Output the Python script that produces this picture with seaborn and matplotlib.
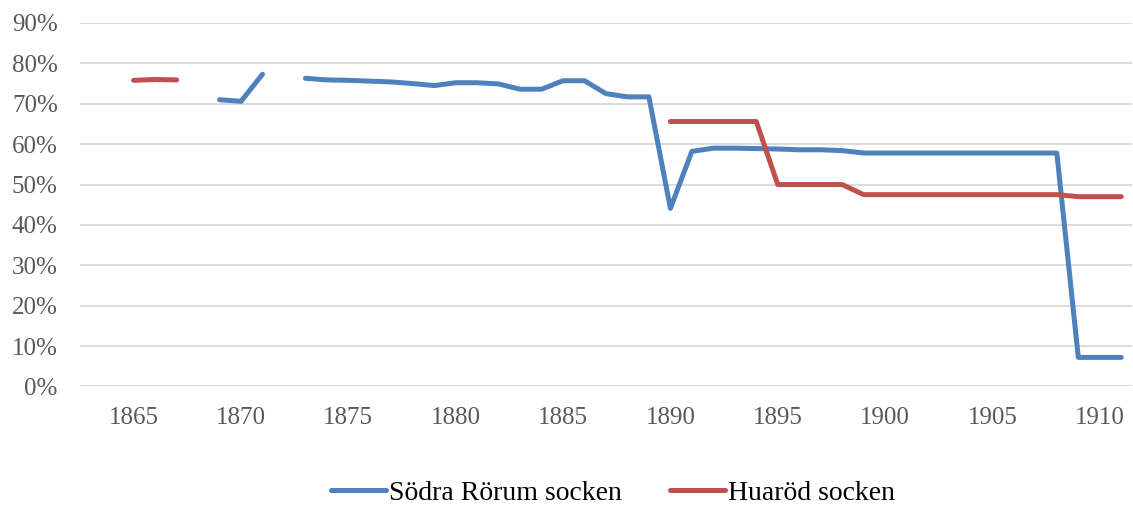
import numpy as np
import pandas as pd
import matplotlib
matplotlib.use('Agg')
import matplotlib.pyplot as plt
import seaborn as sns
from matplotlib.ticker import PercentFormatter, MultipleLocator

nan = np.nan

# Data (percent)
years = list(range(1865, 1912))
sodra_rorum = [nan, nan, nan, nan, 71.0, 70.6, 77.3, nan, 76.3, 75.9,
               75.8, 75.6, 75.4, 75.0, 74.5, 75.2, 75.2, 74.9, 73.6, 73.6,
               75.7, 75.7, 72.5, 71.7, 71.7, 44.1, 58.2, 59.0, 59.0, 58.9,
               58.8, 58.6, 58.6, 58.4, 57.8, 57.8, 57.8, 57.8, 57.8, 57.8,
               57.8, 57.8, 57.8, 57.8, 7.2, 7.2, 7.2]
huarod = [75.8, 76.0, 75.9, nan, nan, nan, nan, nan, nan, nan,
          nan, nan, nan, nan, nan, nan, nan, nan, nan, nan,
          nan, nan, nan, nan, nan, 65.6, 65.6, 65.6, 65.6, 65.6,
          50.0, 50.0, 50.0, 50.0, 47.5, 47.5, 47.5, 47.5, 47.5, 47.5,
          47.5, 47.5, 47.5, 47.5, 47.0, 47.0, 47.0]
series_names = ['Södra Rörum socken', 'Huaröd socken']
colors = ['#4F81BD', '#C0504D']
x_ticks = list(range(1865, 1911, 5))

# long table; gaps split each series into separate segments
frames = []
for name, vals in zip(series_names, [sodra_rorum, huarod]):
    s = pd.Series(vals, index=years)
    seg = s.isna().cumsum()
    d = pd.DataFrame({'year': years, 'value': vals, 'series': name,
                      'seg': [f'{name}_{k}' for k in seg]})
    frames.append(d.dropna())
df = pd.concat(frames, ignore_index=True)

sns.set_style('white')
plt.rcParams['font.family'] = ['Liberation Serif', 'DejaVu Serif']

fig = plt.figure(figsize=(11.33, 5.07), dpi=100)
ax = fig.add_axes([0.0706, 0.2377, 0.9285, 0.7170])

sns.lineplot(data=df, x='year', y='value', hue='series', units='seg',
             estimator=None, palette=dict(zip(series_names, colors)),
             linewidth=3.6, ax=ax, legend=True, solid_capstyle='round',
             hue_order=series_names)

ax.set_xlim(1862.5, 1911.5)
ax.set_ylim(0, 90)
ax.yaxis.set_major_locator(MultipleLocator(10))
ax.yaxis.set_major_formatter(PercentFormatter(decimals=0))
ax.set_xticks(x_ticks)
ax.grid(axis='y', color='#D9D9D9', linewidth=1.3)
ax.set_axisbelow(True)
for sp in ax.spines.values():
    sp.set_visible(False)
ax.tick_params(axis='both', length=0, labelsize=18, colors='#595959')
ax.tick_params(axis='x', pad=15)
ax.tick_params(axis='y', pad=16)
ax.set_xlabel('')
ax.set_ylabel('')

handles, labels = ax.get_legend_handles_labels()
ax.get_legend().remove()
for h in handles:
    h.set_linewidth(3.6)
fig.legend(handles, labels, loc='lower center', bbox_to_anchor=(0.541, 0.002),
           borderaxespad=0.0, borderpad=0.0,
           ncol=2, frameon=False, fontsize=20, handlelength=2.0,
           handletextpad=0.12, columnspacing=1.7, labelcolor='#000000')

fig.savefig('out.png', dpi=100)
